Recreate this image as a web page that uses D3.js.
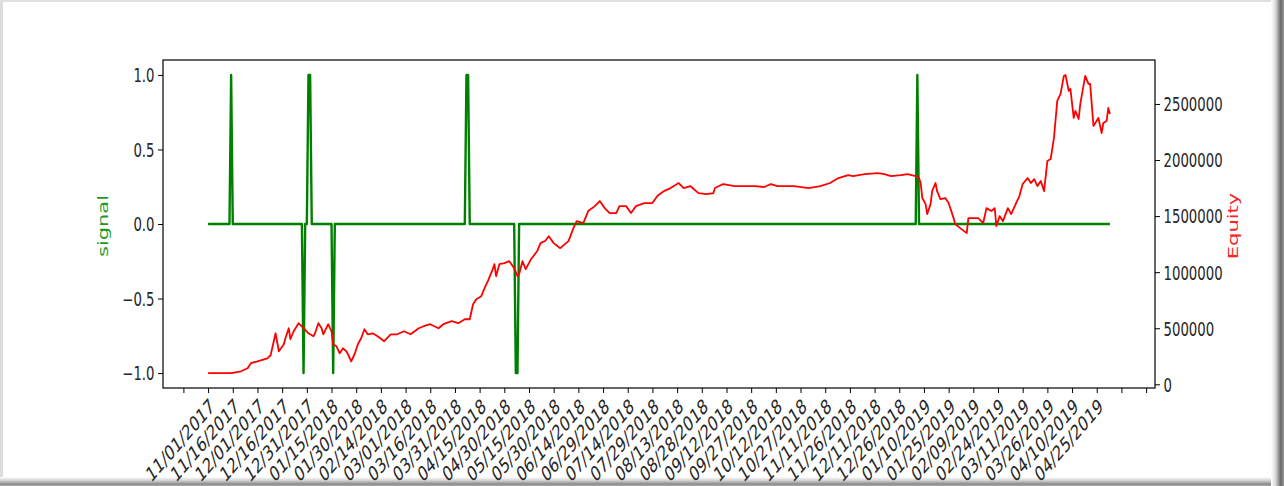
<!DOCTYPE html>
<html>
<head>
<meta charset="utf-8">
<script src="https://cdn.jsdelivr.net/npm/d3@7"></script>
<style>
  html, body { margin: 0; padding: 0; background: #ffffff; }
  svg { display: block; }
  text { font-family: "DejaVu Sans", sans-serif; }
</style>
</head>
<body>
<svg id="chart" width="1284" height="486"></svg>
<script>
// ---------------- DATA ----------------
const equityDates = [
  "2017-11-01","2017-11-15","2017-11-21","2017-11-25","2017-11-27","2017-12-01","2017-12-07","2017-12-09",
  "2017-12-12","2017-12-14","2017-12-17","2017-12-18","2017-12-20","2017-12-21","2017-12-23","2017-12-26",
  "2017-12-29","2018-01-01","2018-01-04","2018-01-05","2018-01-07","2018-01-09","2018-01-10","2018-01-13",
  "2018-01-15","2018-01-16","2018-01-18","2018-01-20","2018-01-22","2018-01-24","2018-01-25","2018-01-27",
  "2018-01-29","2018-01-31","2018-02-02","2018-02-04","2018-02-06","2018-02-09","2018-02-12","2018-02-16",
  "2018-02-20","2018-02-24","2018-02-28","2018-03-04","2018-03-09","2018-03-12","2018-03-16","2018-03-21",
  "2018-03-24","2018-03-29","2018-04-02","2018-04-06","2018-04-09","2018-04-11","2018-04-13","2018-04-16",
  "2018-04-18","2018-04-20","2018-04-23","2018-04-24","2018-04-25","2018-04-27","2018-04-30","2018-05-03",
  "2018-05-06","2018-05-08","2018-05-09","2018-05-11","2018-05-13","2018-05-16","2018-05-20","2018-05-22",
  "2018-05-25","2018-05-27","2018-05-30","2018-06-03","2018-06-08","2018-06-11","2018-06-13","2018-06-17",
  "2018-06-20","2018-06-24","2018-06-27","2018-06-30","2018-07-03","2018-07-07","2018-07-09","2018-07-13",
  "2018-07-16","2018-07-19","2018-07-24","2018-07-29","2018-08-01","2018-08-05","2018-08-09","2018-08-14",
  "2018-08-17","2018-08-21","2018-08-26","2018-08-31","2018-09-04","2018-09-05","2018-09-10","2018-09-17",
  "2018-09-21","2018-09-29","2018-10-05","2018-10-09","2018-10-13","2018-10-23","2018-11-01","2018-11-08",
  "2018-11-14","2018-11-19","2018-11-25","2018-11-28","2018-12-05","2018-12-13","2018-12-17","2018-12-21",
  "2018-12-27","2018-12-31","2019-01-05","2019-01-07","2019-01-08","2019-01-09","2019-01-11","2019-01-12",
  "2019-01-14","2019-01-15","2019-01-17","2019-01-18","2019-01-20","2019-01-23","2019-01-25","2019-01-28",
  "2019-01-29","2019-02-01","2019-02-05","2019-02-06","2019-02-09","2019-02-12","2019-02-15","2019-02-17",
  "2019-02-20","2019-02-22","2019-02-23","2019-02-25","2019-02-27","2019-03-02","2019-03-04","2019-03-07",
  "2019-03-09","2019-03-11","2019-03-14","2019-03-16","2019-03-18","2019-03-20","2019-03-22","2019-03-24",
  "2019-03-26","2019-03-28","2019-03-30","2019-04-01","2019-04-03","2019-04-05","2019-04-06","2019-04-08",
  "2019-04-09","2019-04-11","2019-04-12","2019-04-14","2019-04-15","2019-04-18","2019-04-20","2019-04-21",
  "2019-04-23","2019-04-26","2019-04-28","2019-04-29","2019-05-01","2019-05-02","2019-05-03"
];
const equityValues = [
  100000,100000,116000,143000,188000,205000,232000,259000,
  455000,295000,357000,411000,500000,402000,473000,545000,
  500000,455000,429000,455000,545000,500000,446000,536000,
  473000,357000,339000,277000,321000,295000,268000,205000,
  268000,357000,411000,491000,446000,455000,429000,384000,
  446000,446000,473000,446000,500000,518000,536000,500000,
  536000,563000,545000,580000,580000,714000,759000,786000,
  857000,920000,1027000,1071000,964000,1071000,1080000,1098000,
  1036000,964000,982000,1098000,1027000,1110000,1188000,1259000,
  1280000,1320000,1259000,1214000,1277000,1393000,1455000,1438000,
  1545000,1589000,1634000,1571000,1527000,1527000,1589000,1589000,
  1527000,1589000,1616000,1616000,1679000,1723000,1750000,1795000,
  1750000,1768000,1705000,1696000,1705000,1750000,1786000,1768000,
  1768000,1768000,1759000,1786000,1768000,1768000,1750000,1768000,
  1795000,1839000,1866000,1857000,1875000,1884000,1875000,1857000,
  1866000,1875000,1857000,1839000,1795000,1661000,1607000,1518000,
  1607000,1723000,1795000,1723000,1652000,1661000,1616000,1482000,
  1429000,1393000,1348000,1482000,1482000,1482000,1438000,1571000,
  1545000,1571000,1411000,1500000,1455000,1571000,1518000,1616000,
  1679000,1786000,1839000,1795000,1830000,1768000,1813000,1723000,
  1991000,2009000,2197000,2527000,2589000,2750000,2759000,2616000,
  2634000,2375000,2438000,2366000,2500000,2750000,2679000,2679000,
  2304000,2375000,2241000,2330000,2348000,2464000,2411000
];

const signalDates = [
  "2017-11-01","2017-11-14","2017-11-15","2017-11-16","2017-12-28","2017-12-29","2017-12-30",
  "2017-12-31","2018-01-01","2018-01-02","2018-01-03","2018-01-15","2018-01-16","2018-01-17",
  "2018-04-06","2018-04-07","2018-04-08","2018-04-09","2018-05-06","2018-05-07","2018-05-08","2018-05-09",
  "2019-01-05","2019-01-06","2019-01-07","2019-05-03"
];
const signalValues = [
  0,0,1,0,0,-1,0,
  0,1,1,0,0,-1,0,
  0,1,1,0,0,-1,-1,0,
  0,1,0,0
];

const xTickLabels = [
  "11/01/2017","11/16/2017","12/01/2017","12/16/2017","12/31/2017","01/15/2018","01/30/2018",
  "02/14/2018","03/01/2018","03/16/2018","03/31/2018","04/15/2018","04/30/2018","05/15/2018",
  "05/30/2018","06/14/2018","06/29/2018","07/14/2018","07/29/2018","08/13/2018","08/28/2018",
  "09/12/2018","09/27/2018","10/12/2018","10/27/2018","11/11/2018","11/26/2018","12/11/2018",
  "12/26/2018","01/10/2019","01/25/2019","02/09/2019","02/24/2019","03/11/2019","03/26/2019",
  "04/10/2019","04/25/2019"
];
const xTicksUnlabeled = ["10/17/2017","05/10/2019","05/25/2019"];
const signalTicks = [-1.0, -0.5, 0.0, 0.5, 1.0];
const equityTicks = [0, 500000, 1000000, 1500000, 2000000, 2500000];

// ---------------- LAYOUT ----------------
const W = 1284, H = 486;
const plot = {left: 163, right: 1155, top: 60, bottom: 388};
const SX = 0.7;          // horizontal squash of the text
const FS = 19;           // y tick font size
const FSX = 20.5;        // x tick font size
const ROT = 39;          // x label rotation

const parseISO = d3.timeParse("%Y-%m-%d");
const parseMDY = d3.timeParse("%m/%d/%Y");

const eq = equityDates.map((d, i) => ({date: parseISO(d), v: equityValues[i]}));
const sig = signalDates.map((d, i) => ({date: parseISO(d), v: signalValues[i]}));

const svg = d3.select("#chart");

// ---------------- FRAME ----------------
const defs = svg.append("defs");
const gR = defs.append("linearGradient").attr("id", "shR").attr("x1", "0").attr("x2", "1").attr("y1", "0").attr("y2", "0");
gR.append("stop").attr("offset", "0").attr("stop-color", "#ffffff");
gR.append("stop").attr("offset", "0.35").attr("stop-color", "#d8d8d8");
gR.append("stop").attr("offset", "0.75").attr("stop-color", "#6a6a6a");
gR.append("stop").attr("offset", "1").attr("stop-color", "#9a9a9a");
const gB = defs.append("linearGradient").attr("id", "shB").attr("x1", "0").attr("x2", "0").attr("y1", "0").attr("y2", "1");
gB.append("stop").attr("offset", "0").attr("stop-color", "#ffffff");
gB.append("stop").attr("offset", "0.4").attr("stop-color", "#d0d0d0");
gB.append("stop").attr("offset", "0.8").attr("stop-color", "#8a8a8a");
gB.append("stop").attr("offset", "1").attr("stop-color", "#b0b0b0");

svg.append("rect").attr("x", 0).attr("y", 0).attr("width", W).attr("height", H).attr("fill", "#ffffff");
svg.append("rect").attr("x", 0).attr("y", 0).attr("width", 3).attr("height", H).attr("fill", "#dcdcdc");
svg.append("rect").attr("x", 0).attr("y", 0).attr("width", W).attr("height", 2).attr("fill", "#e0e0e0");
svg.append("rect").attr("x", W - 13).attr("y", 0).attr("width", 13).attr("height", H).attr("fill", "url(#shR)");
svg.append("rect").attr("x", 0).attr("y", H - 9).attr("width", W - 13).attr("height", 9).attr("fill", "url(#shB)");

// ---------------- SCALES ----------------
const xExt = d3.extent(eq, d => d.date);
const xPad = (xExt[1] - xExt[0]) * 0.05;
const x = d3.scaleTime()
  .domain([new Date(+xExt[0] - xPad), new Date(+xExt[1] + xPad)])
  .range([plot.left, plot.right]);

const yL = d3.scaleLinear().domain([-1.1, 1.1]).range([plot.bottom, plot.top]);

const eExt = d3.extent(eq, d => d.v);
const ePad = (eExt[1] - eExt[0]) * 0.05;
const yR = d3.scaleLinear().domain([eExt[0] - ePad, eExt[1] + ePad]).range([plot.bottom, plot.top]);

// ---------------- LINES ----------------
svg.append("path").datum(sig)
  .attr("fill", "none").attr("stroke", "#008000").attr("stroke-width", 2.4)
  .attr("stroke-linejoin", "round")
  .attr("d", d3.line().x(d => x(d.date)).y(d => yL(d.v)));

svg.append("path").datum(eq)
  .attr("fill", "none").attr("stroke", "#ff0000").attr("stroke-width", 1.8)
  .attr("stroke-linejoin", "round")
  .attr("d", d3.line().x(d => x(d.date)).y(d => yR(d.v)));

// ---------------- AXES ----------------
const TICK = 5, PAD = 3.5;
const textColor = "#262626";

// left axis
const axL = svg.append("g").attr("transform", `translate(${plot.left},0)`)
  .call(d3.axisLeft(yL).tickValues(signalTicks).tickSize(TICK).tickPadding(PAD)
    .tickFormat(d => d3.format(".1f")(d).replace("-", "\u2212")));
axL.select(".domain").remove();
axL.selectAll(".tick line").attr("stroke", "#000").attr("stroke-width", 1);
axL.selectAll(".tick text")
  .attr("x", 0).attr("dy", "0.36em")
  .attr("transform", `translate(${-(TICK + PAD)},0) scale(${SX},1)`)
  .attr("font-size", FS).attr("fill", textColor);

// right axis
const axR = svg.append("g").attr("transform", `translate(${plot.right},0)`)
  .call(d3.axisRight(yR).tickValues(equityTicks).tickSize(TICK).tickPadding(PAD)
    .tickFormat(d3.format("d")));
axR.select(".domain").remove();
axR.selectAll(".tick line").attr("stroke", "#000").attr("stroke-width", 1);
axR.selectAll(".tick text")
  .attr("x", 0).attr("dy", "0.36em")
  .attr("transform", `translate(${TICK + PAD},0) scale(${SX},1)`)
  .attr("font-size", FS).attr("fill", textColor);

// bottom axis
const labeledDates = xTickLabels.map(parseMDY);
const extraDates = xTicksUnlabeled.map(parseMDY);
const allTickDates = extraDates.concat(labeledDates).sort((a, b) => a - b);
const fmtMDY = d3.timeFormat("%m/%d/%Y");
const labelSet = new Set(xTickLabels);
const axB = svg.append("g").attr("transform", `translate(0,${plot.bottom})`)
  .call(d3.axisBottom(x).tickValues(allTickDates).tickSize(TICK).tickPadding(PAD)
    .tickFormat(d => labelSet.has(fmtMDY(d)) ? fmtMDY(d) : ""));
axB.select(".domain").remove();
axB.selectAll(".tick line").attr("stroke", "#000").attr("stroke-width", 1);
axB.selectAll(".tick text")
  .attr("x", 0).attr("y", 0).attr("dy", "0.76em")
  .attr("text-anchor", "end")
  .attr("transform", `translate(0,${TICK + PAD}) scale(${SX},1) rotate(${-ROT})`)
  .attr("font-size", FSX).attr("fill", textColor);

// spines
svg.append("rect")
  .attr("x", plot.left).attr("y", plot.top)
  .attr("width", plot.right - plot.left).attr("height", plot.bottom - plot.top)
  .attr("fill", "none").attr("stroke", "#000").attr("stroke-width", 1.2);

// axis titles
svg.append("text")
  .attr("transform", `translate(108,226) scale(${SX},1) rotate(-90)`)
  .attr("text-anchor", "middle").attr("font-size", 21).attr("fill", "#1f9a1f")
  .text("signal");
svg.append("text")
  .attr("transform", `translate(1238,226) scale(${SX},1) rotate(-90)`)
  .attr("text-anchor", "middle").attr("font-size", 21).attr("fill", "#ff2020")
  .text("Equity");
</script>
</body>
</html>
